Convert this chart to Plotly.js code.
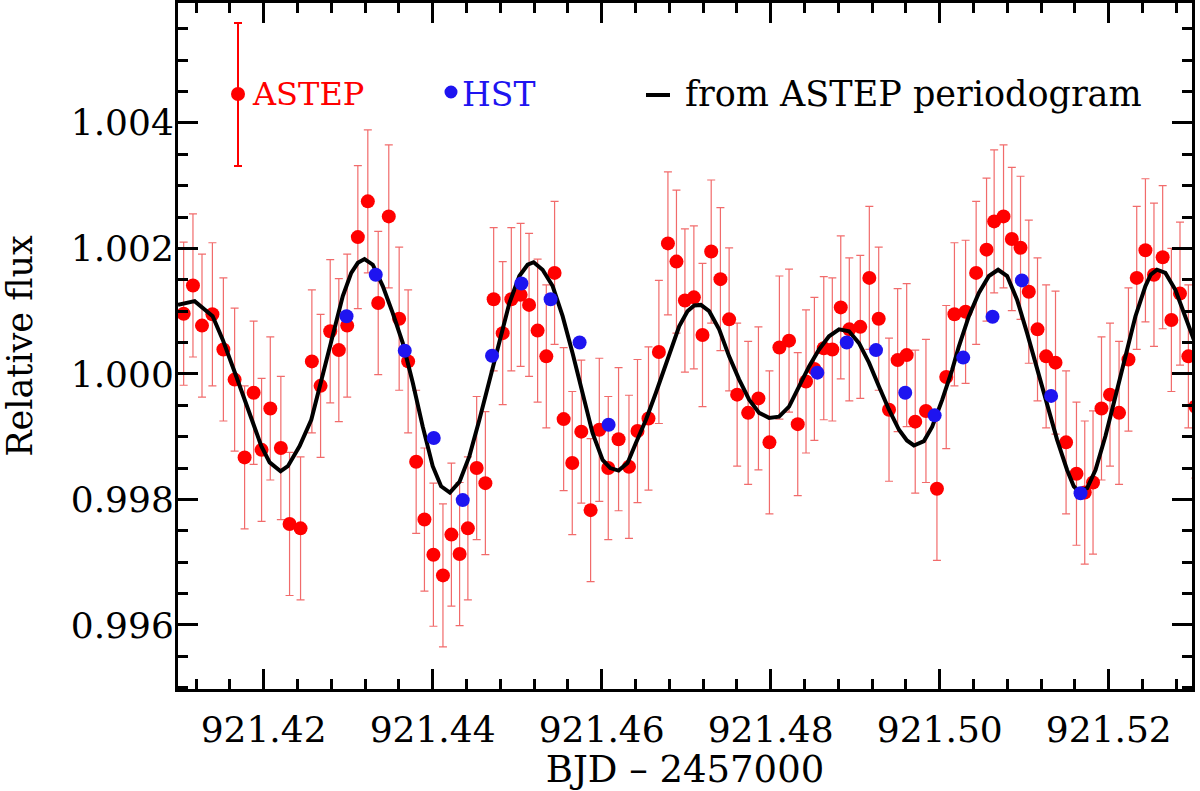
<!DOCTYPE html>
<html>
<head>
<meta charset="utf-8">
<script src="https://cdn.plot.ly/plotly-3.0.1.min.js"></script>
<style>
    html, body { margin: 0; padding: 0; background: #ffffff; }
    #fluxGraphDiv { width: 1200px; height: 791px; }
</style>
</head>
<body>
<div id="fluxGraphDiv"></div>
<script>
"use strict";

// ASTEP photometry (BJD - 2457000, relative flux)
var astepTime = [
    921.41054, 921.41164, 921.41271, 921.41394, 921.41524, 921.41657, 921.41775, 921.41882,
    921.41976, 921.42079, 921.42204, 921.42307, 921.42437, 921.42571, 921.42674, 921.42788,
    921.42890, 921.42989, 921.43115, 921.43233, 921.43356, 921.43481, 921.43604, 921.43710,
    921.43805, 921.43903, 921.44009, 921.44122, 921.44222, 921.44319, 921.44417, 921.44521,
    921.44624, 921.44722, 921.44829, 921.44931, 921.45041, 921.45141, 921.45242, 921.45345,
    921.45443, 921.45550, 921.45652, 921.45759, 921.45869, 921.45972, 921.46078, 921.46200,
    921.46323, 921.46424, 921.46554, 921.46677, 921.46784, 921.46885, 921.46985, 921.47091,
    921.47193, 921.47296, 921.47405, 921.47508, 921.47603, 921.47733, 921.47855, 921.47985,
    921.48103, 921.48217, 921.48320, 921.48418, 921.48517, 921.48628, 921.48729, 921.48829,
    921.48930, 921.49060, 921.49167, 921.49278, 921.49400, 921.49502, 921.49609, 921.49710,
    921.49837, 921.49967, 921.50077, 921.50174, 921.50306, 921.50431, 921.50554, 921.50644,
    921.50755, 921.50853, 921.50956, 921.51054, 921.51157, 921.51259, 921.51370, 921.51495,
    921.51618, 921.51716, 921.51814, 921.51914, 921.52015, 921.52122, 921.52233, 921.52331,
    921.52434, 921.52535, 921.52638, 921.52741, 921.52843, 921.52942, 921.53025
];
var astepFlux = [
    1.00096, 1.00141, 1.00077, 1.00095, 1.00039, 0.99991, 0.99867, 0.99970,
    0.99879, 0.99945, 0.99882, 0.99761, 0.99754, 1.00020, 0.99981, 1.00068,
    1.00038, 1.00077, 1.00218, 1.00275, 1.00113, 1.00251, 1.00088, 1.00020,
    0.99860, 0.99768, 0.99712, 0.99679, 0.99744, 0.99713, 0.99754, 0.99850,
    0.99826, 1.00119, 1.00065, 1.00119, 1.00126, 1.00110, 1.00069, 1.00028,
    1.00161, 0.99928, 0.99858, 0.99908, 0.99783, 0.99911, 0.99850, 0.99896,
    0.99852, 0.99909, 0.99929, 1.00035, 1.00208, 1.00179, 1.00117, 1.00122,
    1.00062, 1.00195, 1.00151, 1.00087, 0.99967, 0.99938, 0.99961, 0.99891,
    1.00042, 1.00053, 0.99920, 0.99988, 1.00008, 1.00041, 1.00039, 1.00106,
    1.00071, 1.00075, 1.00153, 1.00088, 0.99943, 1.00022, 1.00030, 0.99924,
    0.99941, 0.99817, 0.99995, 1.00095, 1.00099, 1.00161, 1.00198, 1.00243,
    1.00251, 1.00215, 1.00201, 1.00131, 1.00071, 1.00028, 1.00018, 0.99891,
    0.99841, 0.99811, 0.99827, 0.99945, 0.99967, 0.99938, 1.00023, 1.00153,
    1.00197, 1.00158, 1.00186, 1.00086, 1.00128, 1.00028, 0.99948
];
var astepFluxError = 0.00114;

// HST photometry
var hstTime = [
    921.42981, 921.43327, 921.43670, 921.44013, 921.44356, 921.44703, 921.45050, 921.45396,
    921.45739, 921.46082, 921.48552, 921.48900, 921.49246, 921.49592, 921.49940, 921.50278,
    921.50625, 921.50972, 921.51318, 921.51666
];
var hstFlux = [
    1.00092, 1.00158, 1.00037, 0.99898, 0.99799, 1.00029, 1.00144, 1.00119,
    1.00050, 0.99919, 1.00002, 1.00050, 1.00038, 0.99970, 0.99934, 1.00026,
    1.00091, 1.00149, 0.99965, 0.99810
];

// model curve from the ASTEP periodogram
var modelTime = [
    921.40987, 921.41184, 921.41397, 921.41515, 921.41677, 921.41835, 921.41973, 921.42071,
    921.42201, 921.42287, 921.42426, 921.42564, 921.42682, 921.42819, 921.42937, 921.43037,
    921.43115, 921.43194, 921.43292, 921.43410, 921.43528, 921.43647, 921.43765, 921.43883,
    921.44001, 921.44100, 921.44204, 921.44317, 921.44435, 921.44553, 921.44671, 921.44790,
    921.44908, 921.45026, 921.45124, 921.45195, 921.45301, 921.45420, 921.45538, 921.45656,
    921.45774, 921.45892, 921.46011, 921.46102, 921.46200, 921.46306, 921.46405, 921.46524,
    921.46642, 921.46799, 921.46917, 921.47015, 921.47095, 921.47174, 921.47272, 921.47390,
    921.47508, 921.47627, 921.47745, 921.47863, 921.47981, 921.48099, 921.48217, 921.48336,
    921.48454, 921.48572, 921.48690, 921.48809, 921.48927, 921.49045, 921.49163, 921.49281,
    921.49400, 921.49518, 921.49612, 921.49695, 921.49813, 921.49911, 921.50030, 921.50148,
    921.50227, 921.50345, 921.50463, 921.50582, 921.50691, 921.50798, 921.50916, 921.51034,
    921.51152, 921.51271, 921.51389, 921.51507, 921.51586, 921.51645, 921.51744, 921.51843,
    921.51961, 921.52079, 921.52197, 921.52316, 921.52434, 921.52496, 921.52571, 921.52670,
    921.52788, 921.52907, 921.53005
];
var modelFlux = [
    1.00110, 1.00116, 1.00092, 1.00055, 0.99996, 0.99938, 0.99885, 0.99859,
    0.99845, 0.99853, 0.99885, 0.99927, 0.99991, 1.00060, 1.00124, 1.00161,
    1.00177, 1.00183, 1.00174, 1.00140, 1.00097, 1.00049, 0.99986, 0.99916,
    0.99853, 0.99821, 0.99811, 0.99828, 0.99869, 0.99927, 0.99991, 1.00055,
    1.00113, 1.00156, 1.00174, 1.00178, 1.00166, 1.00140, 1.00092, 1.00033,
    0.99970, 0.99906, 0.99863, 0.99850, 0.99846, 0.99858, 0.99890, 0.99927,
    0.99970, 1.00033, 1.00076, 1.00100, 1.00109, 1.00110, 1.00100, 1.00071,
    1.00028, 0.99991, 0.99959, 0.99938, 0.99930, 0.99932, 0.99948, 0.99980,
    1.00012, 1.00039, 1.00060, 1.00071, 1.00068, 1.00049, 1.00018, 0.99980,
    0.99943, 0.99911, 0.99894, 0.99886, 0.99893, 0.99916, 0.99959, 1.00007,
    1.00044, 1.00092, 1.00129, 1.00156, 1.00166, 1.00156, 1.00118, 1.00065,
    1.00007, 0.99948, 0.99895, 0.99847, 0.99821, 0.99813, 0.99818, 0.99847,
    0.99901, 0.99964, 1.00028, 1.00092, 1.00140, 1.00158, 1.00166, 1.00161,
    1.00134, 1.00092, 1.00055
];

var xTickValues = [921.42, 921.44, 921.46, 921.48, 921.50, 921.52];
var xTickLabels = ["921.42", "921.44", "921.46", "921.48", "921.50", "921.52"];
var yTickValues = [0.996, 0.998, 1.000, 1.002, 1.004];
var yTickLabels = ["0.996", "0.998", "1.000", "1.002", "1.004"];

const redColor = "#ff0000";
const blueColor = "#1e14f0";
const serifFont = "DejaVu Serif, serif";

// plot area in pixels (left, right, top, bottom)
const plotLeft = 178, plotRight = 1192, plotTop = 3, plotBottom = 689;

function paperX(px) {
    return (px - plotLeft) / (plotRight - plotLeft);
}
function paperY(py) {
    return (plotBottom - py) / (plotBottom - plotTop);
}

var astepTrace = {
    x: astepTime,
    y: astepFlux,
    type: "scatter",
    mode: "markers",
    marker: { color: redColor, size: 14 },
    error_y: {
        type: "constant",
        value: astepFluxError,
        color: "rgba(238,70,70,0.8)",
        thickness: 1.2,
        width: 4
    },
    showlegend: false,
    hoverinfo: "skip"
};
var modelTrace = {
    x: modelTime,
    y: modelFlux,
    type: "scatter",
    mode: "lines",
    line: { color: "#000000", width: 4 },
    showlegend: false,
    hoverinfo: "skip"
};
var hstTrace = {
    x: hstTime,
    y: hstFlux,
    type: "scatter",
    mode: "markers",
    marker: { color: blueColor, size: 14 },
    showlegend: false,
    hoverinfo: "skip"
};

var commonAxis = {
    showline: true,
    linecolor: "#000000",
    linewidth: 3,
    mirror: "allticks",
    ticks: "inside",
    ticklen: 20,
    tickwidth: 3,
    tickcolor: "#000000",
    showgrid: false,
    zeroline: false,
    tickfont: { family: serifFont, size: 36, color: "#000000" }
};

var layout = {
    width: 1200,
    height: 791,
    margin: { l: plotLeft, r: 1200 - plotRight, t: plotTop, b: 791 - plotBottom },
    paper_bgcolor: "#ffffff",
    plot_bgcolor: "#ffffff",
    showlegend: false,
    xaxis: Object.assign({}, commonAxis, {
        range: [921.40987, 921.52985],
        tickmode: "array",
        tickvals: xTickValues,
        ticktext: xTickLabels,
        ticklabelstandoff: 7,
        minor: { dtick: 0.004, tick0: 921.42, ticks: "inside", ticklen: 10, tickwidth: 3, tickcolor: "#000000", showgrid: false },
        title: { text: "BJD \u2013 2457000", standoff: 22, font: { family: serifFont, size: 37, color: "#000000" } }
    }),
    yaxis: Object.assign({}, commonAxis, {
        range: [0.99498, 1.00591],
        tickmode: "array",
        tickvals: yTickValues,
        ticktext: yTickLabels,
        ticklabelstandoff: -6,
        minor: { dtick: 0.0005, tick0: 0.996, ticks: "inside", ticklen: 10, tickwidth: 3, tickcolor: "#000000", showgrid: false },
        title: { text: "Relative flux", standoff: 32, font: { family: serifFont, size: 35, color: "#000000" } }
    }),
    shapes: [
        // ASTEP legend key: error bar and dot
        { type: "line", xref: "paper", yref: "paper", x0: paperX(238), x1: paperX(238), y0: paperY(166), y1: paperY(23), line: { color: redColor, width: 2 } },
        { type: "line", xref: "paper", yref: "paper", x0: paperX(234), x1: paperX(242), y0: paperY(23), y1: paperY(23), line: { color: redColor, width: 2 } },
        { type: "line", xref: "paper", yref: "paper", x0: paperX(234), x1: paperX(242), y0: paperY(166), y1: paperY(166), line: { color: redColor, width: 2 } },
        { type: "circle", xref: "paper", yref: "paper", x0: paperX(231), x1: paperX(245), y0: paperY(101), y1: paperY(87), fillcolor: redColor, line: { width: 0 } },
        // HST legend key
        { type: "circle", xref: "paper", yref: "paper", x0: paperX(444.5), x1: paperX(457.5), y0: paperY(98.5), y1: paperY(85.5), fillcolor: blueColor, line: { width: 0 } },
        // model legend key
        { type: "line", xref: "paper", yref: "paper", x0: paperX(646), x1: paperX(670), y0: paperY(95), y1: paperY(95), line: { color: "#000000", width: 4 } }
    ],
    annotations: [
        { text: "ASTEP", xref: "paper", yref: "paper", x: paperX(250), y: paperY(94), xanchor: "left", yanchor: "middle", showarrow: false, font: { family: serifFont, size: 32, color: redColor } },
        { text: "HST", xref: "paper", yref: "paper", x: paperX(460), y: paperY(94), xanchor: "left", yanchor: "middle", showarrow: false, font: { family: serifFont, size: 33, color: blueColor } },
        { text: "from ASTEP periodogram", xref: "paper", yref: "paper", x: paperX(683), y: paperY(94), xanchor: "left", yanchor: "middle", showarrow: false, font: { family: serifFont, size: 35, color: "#000000" } }
    ]
};

Plotly.newPlot("fluxGraphDiv", [astepTrace, modelTrace, hstTrace], layout, { displayModeBar: false, staticPlot: true });
</script>
</body>
</html>
